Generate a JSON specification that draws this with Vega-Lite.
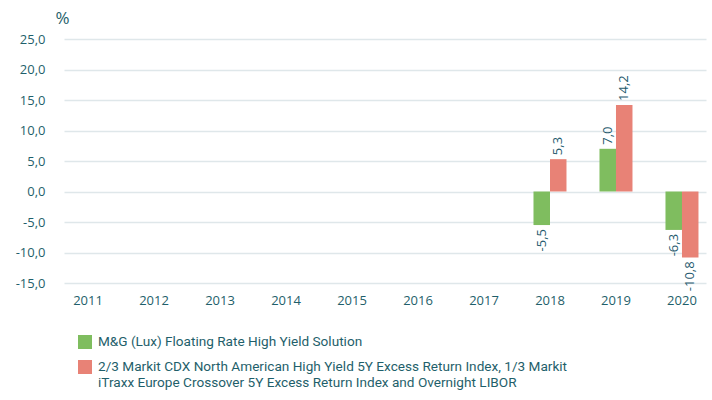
{
  "$schema": "https://vega.github.io/schema/vega-lite/v6.json",
  "autosize": {"type": "none"},
  "padding": {"left": 64, "top": 39, "right": 6, "bottom": 117},
  "width": 642,
  "height": 244,
  "config": {
    "locale": {"number": {"decimal": ",", "thousands": ".", "grouping": [3], "currency": ["", " €"], "minus": "-"}},
    "view": {"stroke": null},
    "font": "Open Sans"
  },
  "data": {
    "values": [
      {"year": "2018", "series": "M&G (Lux) Floating Rate High Yield Solution", "value": -5.5},
      {"year": "2018", "series": "2/3 Markit CDX North American High Yield 5Y Excess Return Index, 1/3 Markit iTraxx Europe Crossover 5Y Excess Return Index and Overnight LIBOR", "value": 5.3},
      {"year": "2019", "series": "M&G (Lux) Floating Rate High Yield Solution", "value": 7.0},
      {"year": "2019", "series": "2/3 Markit CDX North American High Yield 5Y Excess Return Index, 1/3 Markit iTraxx Europe Crossover 5Y Excess Return Index and Overnight LIBOR", "value": 14.2},
      {"year": "2020", "series": "M&G (Lux) Floating Rate High Yield Solution", "value": -6.3},
      {"year": "2020", "series": "2/3 Markit CDX North American High Yield 5Y Excess Return Index, 1/3 Markit iTraxx Europe Crossover 5Y Excess Return Index and Overnight LIBOR", "value": -10.8}
    ]
  },
  "encoding": {
    "x": {
      "field": "year", "type": "ordinal",
      "scale": {"domain": ["2011","2012","2013","2014","2015","2016","2017","2018","2019","2020"], "paddingInner": 0.5, "paddingOuter": 0.114},
      "axis": {"title": null, "labelAngle": 0, "domain": false, "ticks": false, "labelColor": "#1f5f6b", "labelFontSize": 13, "labelPadding": 11, "labelDx": 6}
    },
    "xOffset": {
      "field": "series", "type": "nominal",
      "sort": ["M&G (Lux) Floating Rate High Yield Solution"],
      "scale": {"paddingInner": 0, "paddingOuter": 0}
    },
    "y": {
      "field": "value", "type": "quantitative",
      "scale": {"domain": [-15, 25], "nice": false},
      "axis": {
        "values": [-15, -10, -5, 0, 5, 10, 15, 20, 25],
        "format": ".1f",
        "domain": false, "ticks": false,
        "labelColor": "#1f5f6b", "labelFontSize": 13, "labelPadding": 19,
        "gridColor": "#dfe7ea", "gridWidth": 1.5,
        "title": "%", "titleAngle": 0, "titleX": -9, "titleY": -21,
        "titleAlign": "left", "titleBaseline": "middle",
        "titleFontSize": 17, "titleFontWeight": "normal", "titleColor": "#1f5f6b"
      }
    }
  },
  "layer": [
    {
      "mark": {"type": "bar"},
      "encoding": {
        "color": {
          "field": "series", "type": "nominal",
          "sort": ["M&G (Lux) Floating Rate High Yield Solution"],
          "scale": {"range": ["#7fbd5f", "#e88276"]},
          "legend": {
            "title": null,
            "orient": "none", "legendX": 14, "legendY": 296,
            "symbolType": "square", "symbolSize": 196, "symbolStrokeWidth": 0,
            "labelFont": "Roboto", "labelFontSize": 13.6, "labelColor": "#1f5f6b",
            "labelLimit": 700, "labelOffset": 6, "rowPadding": 11,
            "labelExpr": "indexof(datum.label, ' iTraxx') > 0 ? [substring(datum.label, 0, indexof(datum.label, ' iTraxx')), substring(datum.label, indexof(datum.label, 'iTraxx'))] : datum.label"
          }
        }
      }
    },
    {
      "transform": [{"filter": "datum.value >= 0"}],
      "mark": {"type": "text", "angle": 270, "align": "left", "baseline": "middle", "dx": 4, "fontSize": 13, "color": "#1f5a6e"},
      "encoding": {"text": {"field": "value", "type": "quantitative", "format": ".1f"}}
    },
    {
      "transform": [{"filter": "datum.value < 0"}],
      "mark": {"type": "text", "angle": 270, "align": "right", "baseline": "middle", "dx": -4, "fontSize": 13, "color": "#1f5a6e"},
      "encoding": {"text": {"field": "value", "type": "quantitative", "format": ".1f"}}
    }
  ]
}
